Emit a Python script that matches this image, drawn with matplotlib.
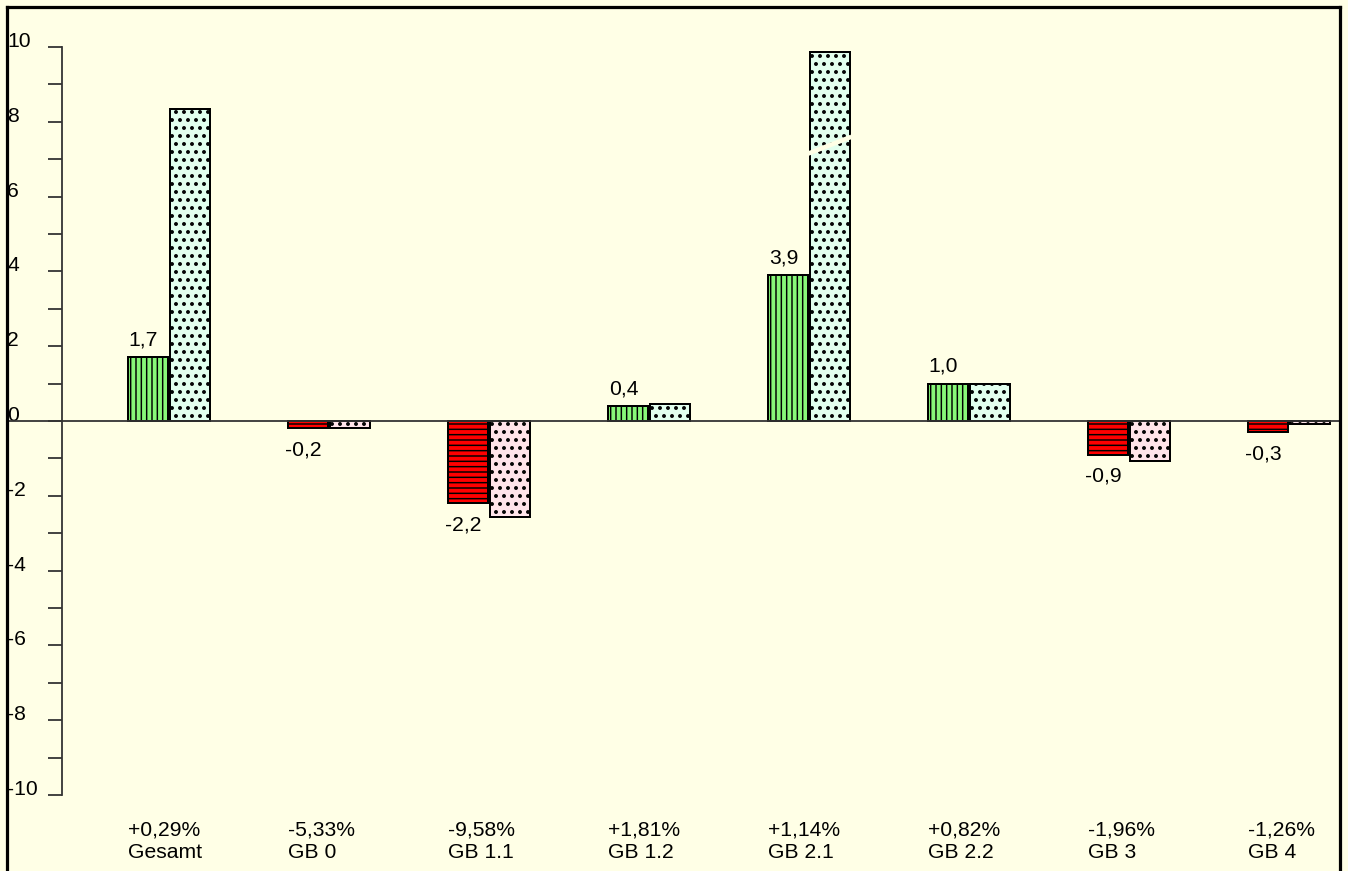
import numpy as np
import matplotlib
matplotlib.use('Agg')
import matplotlib.pyplot as plt
from matplotlib.lines import Line2D

plt.rcParams['font.family'] = ['Liberation Sans', 'DejaVu Sans']
plt.rcParams['hatch.color'] = 'black'

#%% data
categories = ['Gesamt', 'GB 0', 'GB 1.1', 'GB 1.2', 'GB 2.1', 'GB 2.2', 'GB 3', 'GB 4']
changes = ['+0,29%', '-5,33%', '-9,58%', '+1,81%', '+1,14%', '+0,82%', '-1,96%', '-1,26%']
series_a = [1.7, -0.2, -2.2, 0.4, 3.9, 1.0, -0.9, -0.3]
series_b = [8.34, -0.2, -2.57, 0.45, 9.87, 1.0, -1.07, -0.07]
broken = [False, False, False, False, True, False, False, False]
yticks = [-10, -8, -6, -4, -2, 0, 2, 4, 6, 8, 10]

#%% style
DPI = 96
W, H = 1348, 871
px = 72 / DPI            # points per pixel
bg = '#FFFFE6'
green = '#88F878'
red = '#FF0000'
mint = '#E2FFEE'
pink = '#FFE4EA'
fs = 15.8

fig = plt.figure(figsize=(W / DPI, H / DPI), dpi=DPI, facecolor=bg)
ax = fig.add_axes([0, 0, 1, 1], facecolor=bg)

x0, step = 169, 160      # pixel of first category, pixels per category
zero_px, unit_px = 421, 37.4
ax.set_xlim(-x0 / step, (W - x0) / step)
ax.set_ylim((zero_px - H) / unit_px, zero_px / unit_px)

x = np.arange(len(categories))
w = 0.25
off = 0.13

col_a = [green if v >= 0 else red for v in series_a]
hat_a = ['|||' if v >= 0 else '---' for v in series_a]
col_b = [mint if v >= 0 else pink for v in series_b]

plt.rcParams['hatch.linewidth'] = 1.1
bars_a = ax.bar(x - off, series_a, w, color=col_a, edgecolor='black', linewidth=2 * px,
                zorder=3)
for b, h in zip(bars_a, hat_a):
    b.set_hatch(h)
plt.rcParams['hatch.linewidth'] = 1.7
bars_b = ax.bar(x + off, series_b, w, color=col_b, edgecolor='black', linewidth=2 * px,
                hatch='..', zorder=3)

# break mark on clipped bar
for b, brk in zip(bars_b, broken):
    if brk:
        bx = b.get_x()
        ax.plot([bx - 0.01, bx + w + 0.01], [7.15, 7.6], color=bg, lw=4.5 * px, zorder=4,
                solid_capstyle='butt')

# value labels
for xi, v in zip(x, series_a):
    lab = f'{v:.1f}'.replace('.', ',')
    if v >= 0:
        ax.annotate(lab, (xi - off - 0.03, v), xytext=(0, 6), textcoords='offset points',
                    ha='center', va='bottom', fontsize=fs)
    else:
        ax.annotate(lab, (xi - off - 0.03, v), xytext=(0, -9), textcoords='offset points',
                    ha='center', va='top', fontsize=fs)

# category labels
for xi, c, ch in zip(x, categories, changes):
    ax.text(xi - off - w / 2, -10.94, ch, ha='left', va='center', fontsize=fs)
    ax.text(xi - off - w / 2, -11.53, c, ha='left', va='center', fontsize=fs)

# zero line
ax.axhline(0, xmin=7 / W, xmax=1340 / W, color='#333333', lw=1.8 * px, zorder=5)

# axis
for s in ['top', 'right', 'bottom']:
    ax.spines[s].set_visible(False)
ax.spines['left'].set_position(('axes', 62 / W))
ax.spines['left'].set_bounds(-10, 10)
ax.spines['left'].set_color('#333333')
ax.spines['left'].set_linewidth(1.8 * px)
ax.set_xticks([])
ax.set_yticks(yticks)
ax.set_yticklabels([str(t) for t in yticks], fontsize=fs, ha='left')
ax.set_yticks(np.arange(-10, 11, 1), minor=True)
ax.tick_params(axis='y', which='both', direction='out', length=14 * px,
               width=1.8 * px, color='#333333')
ax.tick_params(axis='y', which='major', pad=41 * px)
for t in ax.get_yticklabels():
    t.set_verticalalignment('baseline')

# outer frame
fig.add_artist(Line2D([7 / W, 7 / W], [0, 1 - 7 / H], color='black', lw=3.2 * px))
fig.add_artist(Line2D([7 / W, 1340 / W], [1 - 7 / H, 1 - 7 / H], color='black', lw=3.2 * px))
fig.add_artist(Line2D([1340 / W, 1340 / W], [0, 1 - 7 / H], color='black', lw=3.2 * px))

fig.savefig('out.png', dpi=DPI, facecolor=bg)
